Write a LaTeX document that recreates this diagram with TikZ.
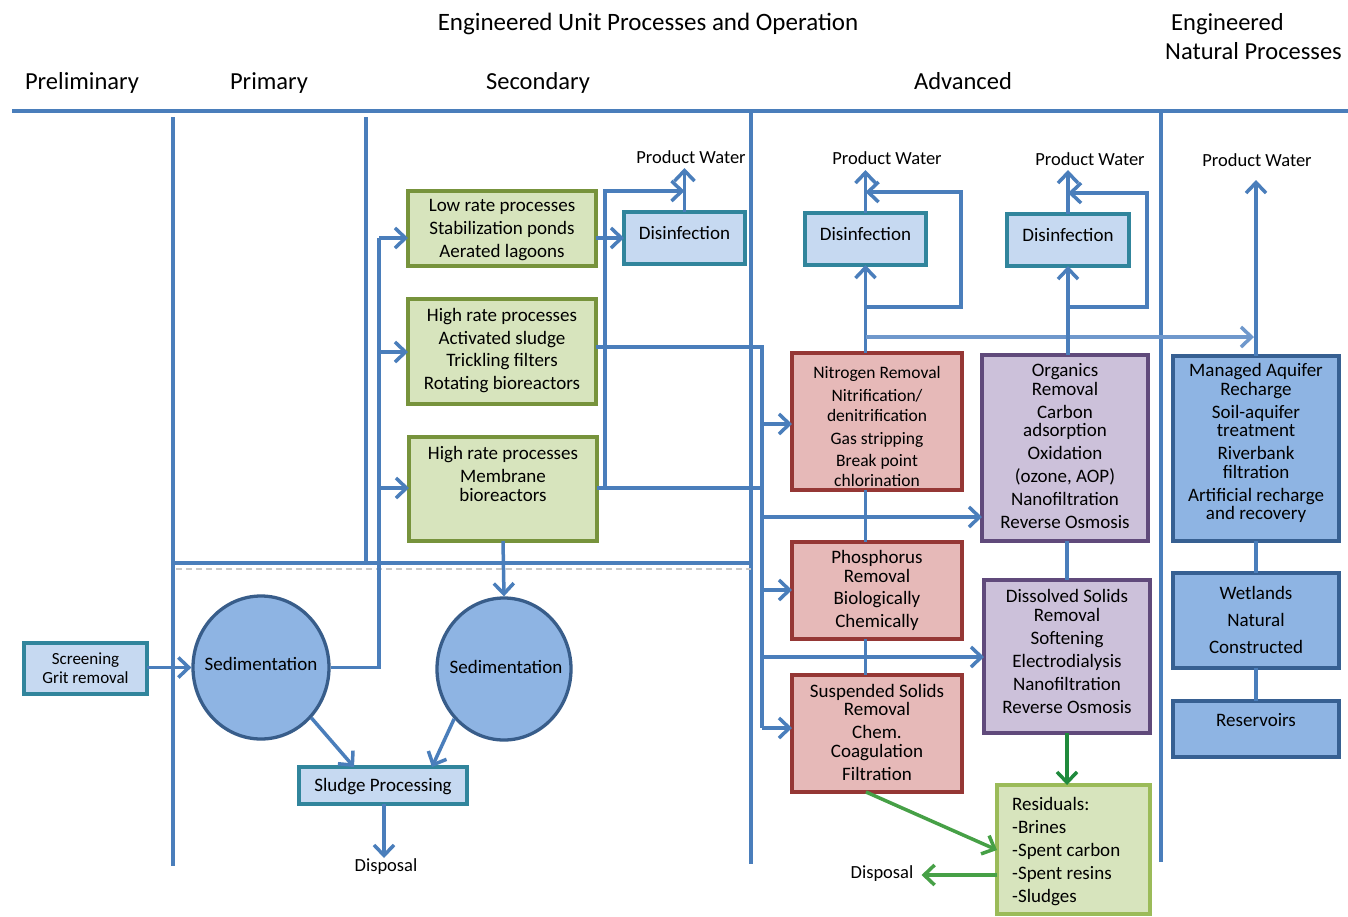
\documentclass[tikz,border=0pt]{standalone}
\usepackage{fontspec}
\setmainfont{Carlito}
\usetikzlibrary{arrows.meta,shapes.geometric}
\definecolor{lb}{HTML}{4A7EBB}
\definecolor{lbl}{HTML}{6F98CC}
\definecolor{gfill}{HTML}{D7E4BD}
\definecolor{gbord}{HTML}{77933C}
\definecolor{rbord}{HTML}{9BBB59}
\definecolor{dfill}{HTML}{C6D9F1}
\definecolor{dbord}{HTML}{31859C}
\definecolor{pfill}{HTML}{E6B9B8}
\definecolor{pbord}{HTML}{953735}
\definecolor{vfill}{HTML}{CCC1DA}
\definecolor{vbord}{HTML}{604A7B}
\definecolor{bfill}{HTML}{8EB4E3}
\definecolor{bbord}{HTML}{376092}
\definecolor{ebord}{HTML}{385D8A}
\definecolor{gra}{HTML}{46A046}
\definecolor{grb}{HTML}{1F8A3C}
\definecolor{shade}{HTML}{C8C8C8}
\begin{document}
\begin{tikzpicture}[x=1pt,y=-1pt,
 ln/.style={draw=lb,line width=3.5pt},
 arr/.style={draw=lb,line width=3.5pt,-{Straight Barb[length=10.5pt,width=20pt]}},
 garr/.style={draw=gra,line width=3.5pt,-{Straight Barb[length=10.5pt,width=20pt]}},
 sepline/.style={draw=lb,line width=3.2pt},
 boxx/.style={draw,line width=3.3pt,inner sep=0pt,outer sep=0pt,anchor=north west},
 boxg/.style={boxx,draw=gbord,fill=gfill},
 boxr/.style={boxx,draw=rbord,fill=gfill,line width=3.6pt},
 boxd/.style={boxx,draw=dbord,fill=dfill},
 boxp/.style={boxx,draw=pbord,fill=pfill},
 boxv/.style={boxx,draw=vbord,fill=vfill},
 boxb/.style={boxx,draw=bbord,fill=bfill},
 sedi/.style={ellipse,draw=ebord,fill=bfill,line width=3.3pt,inner sep=0pt,minimum width=136pt,minimum height=143pt},
 btxt/.style={align=center,inner sep=0pt,font={\fontsize{19}{18.5}\selectfont\lineskiplimit=-30pt}},
 stxt/.style={inner sep=0pt,font={\fontsize{18.5}{22}\selectfont}},
 htxt/.style={inner sep=0pt,anchor=base,font={\fontsize{24.5}{29}\selectfont}}
]
\useasboundingbox (0,0) rectangle (1348,916);
\fill[white] (0,0) rectangle (1348,916);

% headers
\node[htxt,font={\fontsize{25}{30}\selectfont}] (title) at (648,30) {Engineered Unit Processes and Operation};
\node[htxt,anchor=base west] (nat1) at (1171,30) {Engineered};
\node[htxt,anchor=base west] (nat2) at (1165,59) {Natural Processes};
\node[htxt] (hpre) at (82,89) {Preliminary};
\node[htxt] (hpri) at (269,89) {Primary};
\node[htxt] (hsec) at (538,89) {Secondary};
\node[htxt] (hadv) at (963,89) {Advanced};

% separators
\draw[sepline] (12,111) -- (1348,111);
\draw[sepline] (173,117) -- (173,866);
\draw[sepline] (366,117) -- (366,563);
\draw[sepline] (751,113) -- (751,864);
\draw[sepline] (1161,113) -- (1161,862);
\draw[draw=shade,line width=2.5pt,dash pattern=on 6pt off 4pt] (176,569) -- (751,569);
\draw[sepline] (173,563) -- (751,563);

% secondary boxes
\node[boxg,minimum width=188pt,minimum height=75pt] (lowrate) at (408,191) {};
\node[btxt] (lowrate-t) at (502,230.5) {Low rate processes\\[4.5pt]Stabilization ponds\\[4.5pt]Aerated lagoons};
\node[boxg,minimum width=188pt,minimum height=105pt] (highrate) at (408,299) {};
\node[btxt] (highrate-t) at (502,350.5) {High rate processes\\[4.2pt]Activated sludge\\[4.2pt]Trickling filters\\[4.2pt]Rotating bioreactors};
\node[boxg,minimum width=188pt,minimum height=104pt] (membrane) at (409,437) {};
\node[btxt] (membrane-t) at (503,474) {High rate processes\\[4.5pt]Membrane\\bioreactors};

% disinfection
\node[boxd,minimum width=121pt,minimum height=52pt] (dis1) at (624,212) {};
\node[btxt] (dis1-t) at (684.5,233) {Disinfection};
\node[boxd,minimum width=121pt,minimum height=52pt] (dis2) at (805,213) {};
\node[btxt] (dis2-t) at (865.5,234) {Disinfection};
\node[boxd,minimum width=122pt,minimum height=52pt] (dis3) at (1007,214) {};
\node[btxt] (dis3-t) at (1068,235) {Disinfection};

% advanced
\node[boxp,minimum width=170pt,minimum height=137pt] (nitro) at (792,353) {};
\node[btxt,font={\fontsize{17.5}{20}\selectfont\lineskiplimit=-30pt}] (nitro-t) at (877,426) {Nitrogen Removal\\[3pt]Nitrification/\\denitrification\\[3pt]Gas stripping\\[2pt]Break point\\chlorination};
\node[boxp,minimum width=170pt,minimum height=97pt] (phos) at (792,542) {};
\node[btxt] (phos-t) at (877,590.5) {Phosphorus\\Removal\\[4pt]Biologically\\[4.5pt]Chemically};
\node[boxp,minimum width=170pt,minimum height=117pt] (susp) at (792,675) {};
\node[btxt] (susp-t) at (877,732) {Suspended Solids\\Removal\\[4.5pt]Chem.\\Coagulation\\[4.5pt]Filtration};
\node[boxv,minimum width=166pt,minimum height=186pt] (organ) at (982,355) {};
\node[btxt] (organ-t) at (1065,446.5) {Organics\\Removal\\[4.5pt]Carbon\\adsorption\\[4.5pt]Oxidation\\[4.5pt](ozone, AOP)\\[4.5pt]Nanofiltration\\[4.5pt]Reverse Osmosis};
\node[boxv,minimum width=166pt,minimum height=153pt] (dissol) at (984,580) {};
\node[btxt] (dissol-t) at (1067,651.5) {Dissolved Solids\\Removal\\[4.5pt]Softening\\[4.5pt]Electrodialysis\\[4.5pt]Nanofiltration\\[4.5pt]Reverse Osmosis};
\node[boxr,minimum width=153pt,minimum height=129pt] (resid) at (997,785) {};
\node[btxt,align=left,anchor=west] (resid-t) at (1012,851.5) {Residuals:\\[4.5pt]-Brines\\[4.5pt]-Spent carbon\\[4.5pt]-Spent resins\\[4.5pt]-Sludges};

% natural
\node[boxb,minimum width=166pt,minimum height=185pt] (mar) at (1173,356) {};
\node[btxt] (mar-t) at (1256,443) {Managed Aquifer\\Recharge\\[4.5pt]Soil-aquifer\\treatment\\[4.5pt]Riverbank\\filtration\\[4.5pt]Artificial recharge\\and recovery};
\node[boxb,minimum width=166pt,minimum height=95pt] (wet) at (1173,573) {};
\node[btxt] (wet-t) at (1256,620) {Wetlands\\[9pt]Natural\\[8.5pt]Constructed};
\node[boxb,minimum width=166pt,minimum height=56pt] (res) at (1173,701) {};
\node[btxt] (res-t) at (1256,720) {Reservoirs};

% primary / preliminary
\node[boxd,minimum width=123pt,minimum height=51pt] (screen) at (24,643) {};
\node[btxt,font={\fontsize{17}{19}\selectfont}] (screen-t) at (85.5,668.5) {Screening\\Grit removal};
\node[sedi] (sed1) at (261,667.5) {};
\node[btxt] (sed1-t) at (261,664) {Sedimentation};
\node[sedi,minimum width=134pt,minimum height=142pt] (sed2) at (504,669) {};
\node[btxt] (sed2-t) at (506,667) {Sedimentation};
\node[boxd,minimum width=168pt,minimum height=37pt] (sludge) at (299,767) {};
\node[btxt] (sludge-t) at (383,787) {Sludge Processing};

% labels
\node[stxt] (pw1) at (691,157) {Product Water};
\node[stxt] (pw2) at (887,158) {Product Water};
\node[stxt] (pw3) at (1090,159) {Product Water};
\node[stxt] (pw4) at (1257,160) {Product Water};
\node[stxt] (disp1) at (386,867) {Disposal};
\node[stxt] (disp2) at (882,874) {Disposal};

% coordinates
\coordinate (s0) at (379,667.5);
\coordinate (s1) at (379,238);
\coordinate (s2) at (379,352);
\coordinate (s3) at (379,488);
\coordinate (b1) at (605,488);
\coordinate (b2) at (605,191);
\coordinate (b3) at (684.5,191);
\coordinate (a0) at (762,347);
\coordinate (a1) at (762,424);
\coordinate (a2) at (762,517);
\coordinate (a3) at (762,590);
\coordinate (a4) at (762,657);
\coordinate (a5) at (762,728);
\coordinate (e1) at (684.5,168);
\coordinate (e5) at (384,858);

% primary connectors
\draw[arr] (screen.east |- sed1.west) -- (sed1.west);
\draw[ln] (sed1.east) -- (s0) -- (s1);
\draw[arr] (s1) -- (s1 -| lowrate.west);
\draw[arr] (s2) -- (s2 -| highrate.west);
\draw[arr] (s3) -- (s3 -| membrane.west);
\draw[arr] (membrane.south) -- (sed2.north);
\draw[arr] (sed1.-45) -- ([xshift=-29pt]sludge.north);
\draw[arr] (sed2.-135) -- ([xshift=49pt]sludge.north);
\draw[arr] (sludge.south -| e5) -- (e5);

% secondary connectors
\draw[arr] (s1 -| lowrate.east) -- (s1 -| dis1.west);
\draw[ln] (a0 -| highrate.east) -- (a0) -- (a5);
\draw[ln] (b1 -| membrane.east) -- (a1 |- b1);
\draw[arr] (b1) -- (b2) -- (b3);
\draw[arr] (dis1.north) -- (e1);

% advanced connectors
\draw[arr] (a1) -- (a1 -| nitro.west);
\draw[arr] (a3) -- (a3 -| phos.west);
\draw[arr] (a5) -- (a5 -| susp.west);
\draw[arr] (a2) -- (a2 -| organ.west);
\draw[arr] (a4) -- (a4 -| dissol.west);

\draw[arr] (nitro.north -| dis2.south) -- (dis2.south);
\draw[arr] (dis2.south |- 0,307) -- (961,307) -- (961,192) -- (dis2.north |- 0,192);
\draw[arr] (dis2.north) -- (dis2.north |- 0,170);
\draw[arr,draw=lbl] (dis2.south |- 0,337) -- ([xshift=-2pt]mar.north |- 0,337);
\draw[arr] (mar.north) -- (mar.north |- 0,180);

\draw[arr] (organ.north -| dis3.south) -- (dis3.south);
\draw[arr] (dis3.south |- 0,307) -- (1147,307) -- (1147,193) -- (dis3.north |- 0,193);
\draw[arr] (dis3.north) -- (dis3.north |- 0,170);

\draw[ln] (nitro.south -| dis2.south) -- (phos.north -| dis2.south);
\draw[ln] (phos.south -| dis2.south) -- (susp.north -| dis2.south);
\draw[ln] (dissol.north |- organ.south) -- (dissol.north);
\draw[garr,draw=grb] (dissol.south) -- (resid.north -| dissol.south);
\draw[garr] ([xshift=-11pt]susp.south) -- (resid.west |- 0,850);
\draw[garr] (resid.west |- 0,875) -- ([xshift=8pt]disp2.east |- 0,875);

\draw[ln] (mar.south) -- (wet.north);
\draw[ln] (wet.south) -- (res.north);
\end{tikzpicture}
\end{document}
